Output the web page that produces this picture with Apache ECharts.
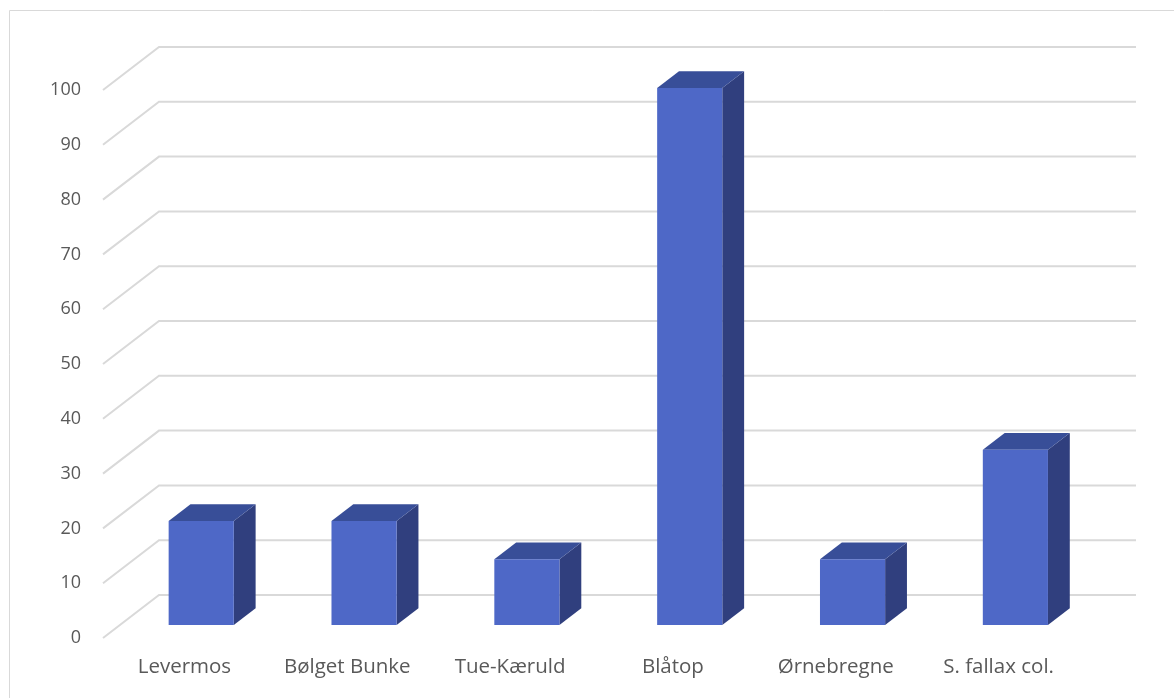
<!DOCTYPE html>
<html>
<head>
<meta charset="utf-8">
<script src="https://cdn.jsdelivr.net/npm/echarts@6/dist/echarts.min.js"></script>
<style>html,body{margin:0;padding:0;background:#fff}#c{width:1174px;height:698px}</style>
</head>
<body>
<div id="c"></div>
<script>
var categories = ['Levermos', 'Bølget Bunke', 'Tue-Kæruld', 'Blåtop', 'Ørnebregne', 'S. fallax col.'];
var values = [19, 19, 12, 98, 12, 32];
var yTicks = [0, 10, 20, 30, 40, 50, 60, 70, 80, 90, 100];

var DX = 56, DY = -43;          // depth offset of the back wall
var F0 = 0.30, F1 = 0.69;       // bar depth range (fraction of full depth)
var BW = 0.40;                  // bar width fraction of category width

var chart = echarts.init(document.getElementById('c'));
chart.setOption({
  animation: false,
  graphic: [{
    type: 'rect', silent: true, z: -10,
    shape: { x: 9.5, y: 10.5, width: 1300, height: 1000 },
    style: { fill: 'none', stroke: '#d9d9d9', lineWidth: 1 }
  }],
  grid: { left: 103, right: 94, top: 90, bottom: 60 },
  xAxis: {
    type: 'category', data: categories,
    axisLine: { show: false }, axisTick: { show: false },
    axisLabel: { color: '#595959', fontSize: 20.5, fontFamily: 'Open Sans', margin: 19,
      interval: 0, hideOverlap: false }
  },
  yAxis: {
    type: 'value', min: 0, max: 100, interval: 10,
    axisLine: { show: false }, axisTick: { show: false }, splitLine: { show: false },
    axisLabel: { color: '#595959', fontSize: 18, fontFamily: 'Open Sans', margin: 22,
      padding: [9, 0, 0, 0],
      formatter: function (v) { return yTicks.indexOf(v) >= 0 ? String(v) : ''; } }
  },
  series: [{
    type: 'custom', z: 1,
    data: yTicks.map(function (t) { return [0, t]; }),
    renderItem: function (params, api) {
      var cs = params.coordSys;
      var y = api.coord([0, api.value(1)])[1];
      var x = cs.x;
      return {
        type: 'polyline',
        shape: { points: [[x, y], [x + DX, y + DY], [x + cs.width + DX, y + DY]] },
        style: { stroke: '#d9d9d9', lineWidth: 2, fill: 'none' }
      };
    }
  }, {
    type: 'custom', z: 2,
    data: values.map(function (v, i) { return [i, v]; }),
    renderItem: function (params, api) {
      var i = api.value(0), v = api.value(1);
      var base = api.coord([i, 0]);
      var top = api.coord([i, v]);
      var cw = api.size([1, 0])[0];
      var w = cw * BW;
      var fx = base[0] + F0 * DX - w / 2;
      var fyB = base[1] + F0 * DY;
      var fyT = top[1] + F0 * DY;
      var ddx = (F1 - F0) * DX, ddy = (F1 - F0) * DY;
      return {
        type: 'group',
        children: [{
          type: 'polygon',
          shape: { points: [[fx + w, fyB], [fx + w + ddx, fyB + ddy], [fx + w + ddx, fyT + ddy], [fx + w, fyT]] },
          style: { fill: '#303f7e' }
        }, {
          type: 'polygon',
          shape: { points: [[fx, fyT], [fx + ddx, fyT + ddy], [fx + w + ddx, fyT + ddy], [fx + w, fyT]] },
          style: { fill: '#384e98' }
        }, {
          type: 'rect',
          shape: { x: fx, y: fyT, width: w, height: fyB - fyT },
          style: { fill: '#4e68c7' }
        }]
      };
    }
  }]
});
</script>
</body>
</html>
